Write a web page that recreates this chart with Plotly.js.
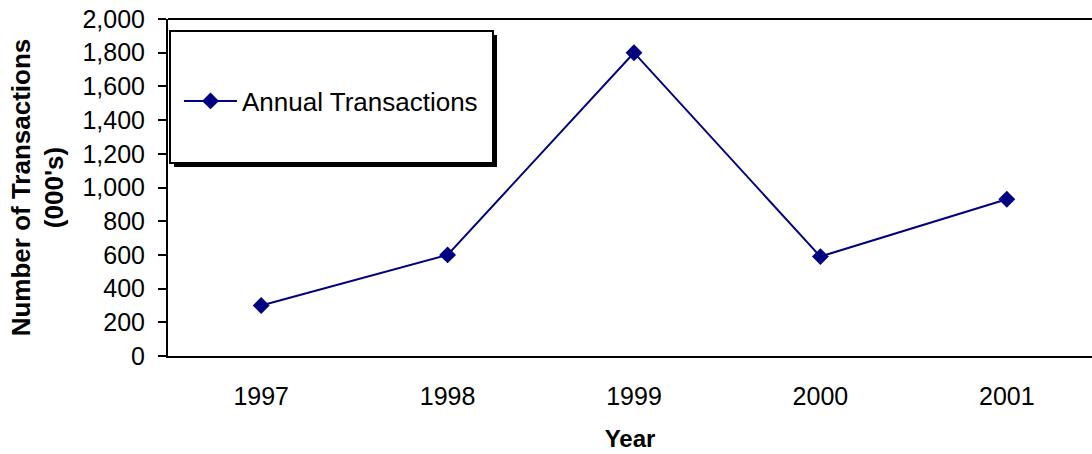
<!DOCTYPE html>
<html>
<head>
<meta charset="utf-8">
<script src="https://cdn.plot.ly/plotly-3.0.1.min.js"></script>
<style>html,body{margin:0;padding:0;background:#fff;}#chart{width:1092px;height:454px;}</style>
</head>
<body>
<div id="chart"></div>
<script>
const years = ['1997', '1998', '1999', '2000', '2001'];
const transactions = [300, 600, 1800, 590, 930];
const seriesName = 'Annual Transactions';
const yTickVals = [0, 200, 400, 600, 800, 1000, 1200, 1400, 1600, 1800, 2000];

const W = 1092, H = 454, L = 168, R = 0, T = 19, B = 98;
const pw = W - L - R, ph = H - T - B;
const px = v => (v - L) / pw;
const py = v => (H - B - v) / ph;

const font = 'Arial, "Liberation Sans", sans-serif';

const trace = {
  x: years, y: transactions, name: seriesName, type: 'scatter', mode: 'lines+markers',
  line: {color: '#000080', width: 2},
  marker: {symbol: 'diamond', size: 13, color: '#000080'},
  showlegend: true
};

const layout = {
  width: W, height: H,
  margin: {l: L, r: R, t: T, b: B, pad: 0},
  paper_bgcolor: '#fff', plot_bgcolor: '#fff',
  font: {family: font, color: '#000', size: 25},
  showlegend: true,
  legend: {
    x: px(179), y: py(101), xanchor: 'left', yanchor: 'middle',
    bgcolor: 'rgba(0,0,0,0)', borderwidth: 0, itemwidth: 53,
    font: {family: font, size: 26, color: '#000'}
  },
  xaxis: {
    type: 'category', range: [-0.5, 4.5 - 8/186.5],
    showgrid: false, zeroline: false, showline: true, linecolor: '#000', linewidth: 2,
    ticks: '', ticklabelstandoff: 17,
    tickfont: {family: font, size: 25, color: '#000'},
    title: {text: '<b>Year</b>', font: {family: font, size: 24, color: '#000'}, standoff: 21}
  },
  yaxis: {
    range: [0, 2000], tickvals: yTickVals, tickformat: ',d',
    showgrid: false, zeroline: false, showline: true, linecolor: '#000', linewidth: 2,
    ticks: 'outside', ticklen: 8, tickwidth: 2, tickcolor: '#000', ticklabelstandoff: 8,
    tickfont: {family: font, size: 25, color: '#000'},
    title: {text: '<b>Number of Transactions<br>(000\'s)</b>', font: {family: font, size: 26, color: '#000'}, standoff: 11}
  },
  shapes: [
    {type: 'line', xref: 'paper', yref: 'paper', x0: 0, x1: 1, y0: 1, y1: 1, line: {color: '#000', width: 2}},
    {type: 'rect', xref: 'paper', yref: 'paper', x0: px(174), x1: px(497), y0: py(167), y1: py(35),
     fillcolor: '#000', line: {width: 0}, layer: 'above'},
    {type: 'rect', xref: 'paper', yref: 'paper', x0: px(170), x1: px(493), y0: py(163), y1: py(31),
     fillcolor: '#fff', line: {color: '#000', width: 2}, layer: 'above'}
  ]
};

Plotly.newPlot('chart', [trace], layout, {displayModeBar: false, staticPlot: true});
</script>
</body>
</html>
